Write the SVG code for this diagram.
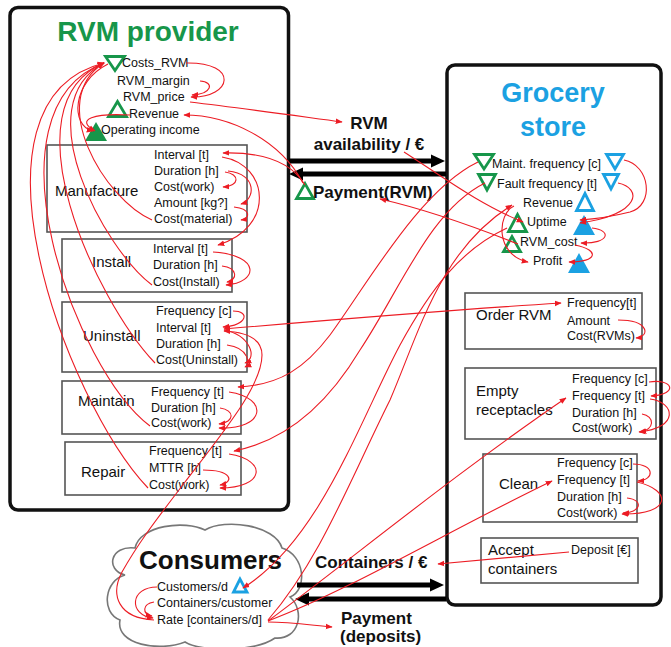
<svg xmlns="http://www.w3.org/2000/svg" width="671" height="647" viewBox="0 0 671 647">
  <defs>
    <style>
      .t { font-family: "Liberation Sans", Arial, sans-serif; font-size: 12.5px; fill: #111; }
      .bn { font-family: "Liberation Sans", Arial, sans-serif; font-size: 15px; fill: #111; }
      .fl { font-family: "Liberation Sans", Arial, sans-serif; font-size: 17px; font-weight: bold; fill: #111; }
      .ttl { font-family: "Liberation Sans", Arial, sans-serif; font-size: 28px; font-weight: bold; }
      .frame { fill: #fff; stroke: #111; stroke-width: 3.5; }
      .box { fill: #fff; stroke: #555; stroke-width: 1.6; }
      .g-open { fill: none; stroke: #17964a; stroke-width: 2.8; stroke-linejoin: miter; }
      .g-fill { fill: #17964a; }
      .b-open { fill: none; stroke: #1ba1e2; stroke-width: 2.8; stroke-linejoin: miter; }
      .b-fill { fill: #1ba1e2; }
      .c { fill: none; stroke: #ec1c24; stroke-width: 1.1; marker-end: url(#ah); }
      .c2 { fill: none; stroke: #ec1c24; stroke-width: 1.1; marker-start: url(#ah); marker-end: url(#ah); }
      .big { stroke: #000; stroke-width: 5; fill: none; }
    </style>
    <marker id="ah" viewBox="0 0 10 10" refX="9" refY="5" markerWidth="7" markerHeight="7" markerUnits="userSpaceOnUse" orient="auto-start-reverse">
      <path d="M0,1 L10,5 L0,9 z" fill="#ec1c24"/>
    </marker>
  </defs>

  <rect width="671" height="647" fill="#fff"/>

  <!-- RVM provider -->
  <g id="rvm-provider">
    <rect class="frame" x="10" y="7.5" width="278.5" height="502.5" rx="8"/>
    <text class="ttl" x="148" y="41" text-anchor="middle" fill="#17964a">RVM provider</text>
    <polygon class="g-open" points="105.5,56.5 124.5,56.5 115,70.5"/>
    <polygon class="g-open" points="108.5,116.5 126.5,116.5 117.5,101.5"/>
    <polygon class="g-fill" points="85,141 107,141 96,122"/>
    <text class="t" x="122" y="67">Costs_RVM</text>
    <text class="t" x="117" y="85">RVM_margin</text>
    <text class="t" x="123" y="101">RVM_price</text>
    <text class="t" x="129" y="118">Revenue</text>
    <text class="t" x="101" y="134">Operating income</text>
  </g>

  <g id="manufacture">
    <rect class="box" x="47" y="145" width="200" height="87"/>
    <text class="bn" x="55" y="196">Manufacture</text>
    <text class="t" x="154" y="159">Interval [t]</text>
    <text class="t" x="154" y="175">Duration [h]</text>
    <text class="t" x="154" y="191">Cost(work)</text>
    <text class="t" x="154" y="207">Amount [kg?]</text>
    <text class="t" x="154" y="223">Cost(material)</text>
  </g>

  <g id="install">
    <rect class="box" x="62" y="239" width="170" height="53"/>
    <text class="bn" x="92" y="267">Install</text>
    <text class="t" x="153" y="253">Interval [t]</text>
    <text class="t" x="153" y="269">Duration [h]</text>
    <text class="t" x="153" y="286">Cost(Install)</text>
  </g>

  <g id="uninstall">
    <rect class="box" x="62" y="302" width="185" height="70"/>
    <text class="bn" x="83" y="341">Uninstall</text>
    <text class="t" x="156" y="315">Frequency [c]</text>
    <text class="t" x="156" y="332">Interval [t]</text>
    <text class="t" x="156" y="348">Duration [h]</text>
    <text class="t" x="156" y="364">Cost(Uninstall)</text>
  </g>

  <g id="maintain">
    <rect class="box" x="62" y="381" width="179" height="53"/>
    <text class="bn" x="78" y="406">Maintain</text>
    <text class="t" x="151" y="396">Frequency [t]</text>
    <text class="t" x="151" y="412">Duration [h]</text>
    <text class="t" x="151" y="427">Cost(work)</text>
  </g>

  <g id="repair">
    <rect class="box" x="65" y="442" width="176" height="53"/>
    <text class="bn" x="81" y="477">Repair</text>
    <text class="t" x="149" y="455">Frequency [t]</text>
    <text class="t" x="149" y="472">MTTR [h]</text>
    <text class="t" x="149" y="489">Cost(work)</text>
  </g>

  <!-- Grocery store -->
  <g id="grocery-store">
    <rect class="frame" x="447" y="65" width="214" height="540" rx="8"/>
    <text class="ttl" x="553" y="102" text-anchor="middle" fill="#1ba1e2" style="font-size:27px">Grocery</text>
    <text class="ttl" x="553" y="136" text-anchor="middle" fill="#1ba1e2" style="font-size:27px">store</text>
    <polygon class="g-open" points="474.5,154.5 493.5,154.5 484,169"/>
    <polygon class="g-open" points="478.5,174.5 495.5,174.5 487,190"/>
    <polygon class="b-open" points="606.5,154.5 623.5,154.5 615,169"/>
    <polygon class="b-open" points="603.5,174.5 618.5,174.5 611,189"/>
    <polygon class="b-open" points="576.5,210.5 593.5,210.5 585,193.5"/>
    <polygon class="g-open" points="508.5,231.5 526.5,231.5 517.5,214.5"/>
    <polygon class="b-fill" points="573,235 595,235 584,215"/>
    <polygon class="g-open" points="503.5,251.5 520.5,251.5 512,236.5"/>
    <polygon class="b-fill" points="568,273 590,273 579,253"/>
    <text class="t" x="492" y="168">Maint. frequency [c]</text>
    <text class="t" x="497" y="188">Fault frequency [t]</text>
    <text class="t" x="523" y="207">Revenue</text>
    <text class="t" x="527" y="226">Uptime</text>
    <text class="t" x="520" y="246">RVM_cost</text>
    <text class="t" x="533" y="265">Profit</text>
  </g>

  <g id="order-rvm">
    <rect class="box" x="465" y="293" width="177" height="56"/>
    <text class="bn" x="476" y="320">Order RVM</text>
    <text class="t" x="567" y="307">Frequency[t]</text>
    <text class="t" x="567" y="325">Amount</text>
    <text class="t" x="567" y="340">Cost(RVMs)</text>
  </g>

  <g id="empty-receptacles">
    <rect class="box" x="465" y="368" width="191" height="71"/>
    <text class="bn" x="476" y="396">Empty</text>
    <text class="bn" x="476" y="415">receptacles</text>
    <text class="t" x="572" y="383">Frequency [c]</text>
    <text class="t" x="572" y="400">Frequency [t]</text>
    <text class="t" x="572" y="417">Duration [h]</text>
    <text class="t" x="572" y="432">Cost(work)</text>
  </g>

  <g id="clean">
    <rect class="box" x="483" y="454" width="154" height="68"/>
    <text class="bn" x="499" y="489">Clean</text>
    <text class="t" x="557" y="467">Frequency [c]</text>
    <text class="t" x="557" y="484">Frequency [t]</text>
    <text class="t" x="557" y="501">Duration [h]</text>
    <text class="t" x="557" y="517">Cost(work)</text>
  </g>

  <g id="accept-containers">
    <rect class="box" x="481" y="538" width="157" height="45"/>
    <text class="bn" x="488" y="555">Accept</text>
    <text class="bn" x="488" y="574">containers</text>
    <text class="t" x="571" y="554">Deposit [€]</text>
  </g>

  <!-- Consumers -->
  <g id="consumers">
    <path d="M125,575 C105,570 110,545 135,548 C140,525 185,520 205,530 C225,518 275,525 282,548 C305,555 308,590 290,597 C305,610 300,640 275,638 C255,652 200,652 185,642 C160,652 115,645 120,620 C100,612 105,580 125,575 Z" fill="#fff" stroke="#777" stroke-width="1.6"/>
    <text x="139" y="569" style="font-family:'Liberation Sans',Arial,sans-serif;font-size:26px;font-weight:bold" fill="#111">Consumers</text>
    <polygon class="b-open" points="233.5,592 247,592 240,579"/>
    <text class="t" x="157" y="591">Customers/d</text>
    <text class="t" x="157" y="607">Containers/customer</text>
    <text class="t" x="157" y="624">Rate [containers/d]</text>
  </g>

  <!-- Exchange labels -->
  <g id="exchange-labels">
    <text class="fl" x="369" y="129" text-anchor="middle">RVM</text>
    <text class="fl" x="369" y="150" text-anchor="middle">availability / €</text>
    <polygon class="g-open" points="296.5,198.5 313.5,198.5 305,183.5"/>
    <text class="fl" x="313" y="198">Payment(RVM)</text>
    <text class="fl" x="315" y="568">Containers / €</text>
    <text class="fl" x="341" y="624">Payment</text>
    <text class="fl" x="340" y="642">(deposits)</text>
  </g>

  <!-- Connectors -->
  <g id="connectors">
    <!-- exchange arrows -->
    <line class="big" x1="289" y1="161" x2="433" y2="161"/>
    <polygon points="431,154.5 445,161 431,167.5" fill="#000"/>
    <line class="big" x1="446" y1="174" x2="301" y2="174"/>
    <polygon points="303,167.5 289,174 303,180.5" fill="#000"/>
    <line class="big" x1="297" y1="585" x2="432" y2="585"/>
    <polygon points="430,578.5 444,585 430,591.5" fill="#000"/>
    <line class="big" x1="446" y1="599" x2="307" y2="599"/>
    <polygon points="309,592.5 295,599 309,605.5" fill="#000"/>

    <!-- provider internals -->
    <path class="c" d="M186,63 C240,62 232,98 191,97"/>
    <path class="c" d="M200,81 C215,82 212,94 192,95"/>
    <path class="c" d="M190,102 C240,108 290,115 342,122"/>
    <path class="c" d="M303,183 C280,140 230,115 184,115"/>
    <path class="c" d="M305,185 C290,160 260,152 223,153"/>
    <path class="c" d="M108,64 C72,82 70,126 93,131"/>
    <path class="c" d="M130,115 C95,113 74,119 95,131"/>
    <path class="c" d="M148,488 C65,400 -45,100 104,63"/>
    <path class="c" d="M150,426 C75,370 -20,110 104,63"/>
    <path class="c" d="M155,363 C95,300 5,105 104,63"/>
    <path class="c" d="M152,285 C105,250 25,105 104,63"/>
    <path class="c" d="M152,220 C105,200 45,100 104,63"/>
    <path class="c" d="M222,157 C270,165 275,228 218,245"/>
    <path class="c" d="M225,172 C240,174 240,186 223,187"/>
    <path class="c" d="M228,171 C258,174 255,200 241,204"/>
    <path class="c" d="M234,207 C252,209 250,219 241,220"/>
    <path class="c" d="M213,252 C262,255 258,283 226,285"/>
    <path class="c" d="M222,266 C238,268 238,280 227,282"/>
    <path class="c" d="M233,311 C250,311 248,325 223,327"/>
    <path class="c" d="M224,330 C250,335 258,358 245,363"/>
    <path class="c" d="M227,345 C250,348 250,365 245,367"/>
    <path class="c" d="M229,392 C270,398 265,430 219,428"/>
    <path class="c" d="M220,408 C235,410 235,422 219,424"/>
    <path class="c" d="M229,454 C268,460 265,488 220,488"/>
    <path class="c" d="M203,470 C232,470 235,482 220,485"/>

    <!-- links between actors -->
    <path class="c2" d="M224,329 C330,320 450,310 561,303"/>
    <path class="c" d="M478,162 C420,190 370,280 330,335 C305,368 280,385 238,387"/>
    <path class="c" d="M485,183 C430,210 400,290 360,350 C330,400 290,440 234,451"/>
    <path class="c" d="M507,228 C460,250 430,290 400,345 C360,420 320,540 243,588"/>
    <path class="c" d="M268,620 C320,560 350,480 390,400 C420,330 440,250 512,205"/>
    <path class="c" d="M268,621 C350,560 460,470 566,398"/>
    <path class="c" d="M268,621 C350,590 450,530 552,481"/>
    <path class="c" d="M268,622 C290,622 310,625 332,627"/>
    <path class="c" d="M154,620 C118,618 110,595 122,572 C140,540 160,515 185,482 C225,430 262,385 262,355 C262,338 245,332 224,331"/>
    <path class="c" d="M404,152 C440,175 480,205 523,222"/>
    <path class="c" d="M518,244 C470,225 420,208 380,199"/>
    <path class="c" d="M569,552 L438,564"/>

    <!-- grocery internals -->
    <path class="c" d="M624,160 C650,165 655,205 630,212 C610,217 595,219 580,220"/>
    <path class="c" d="M618,183 C642,188 642,214 580,223"/>
    <path class="c" d="M592,228 C612,230 610,244 581,243"/>
    <path class="c" d="M575,245 C600,250 598,262 569,262"/>
    <path class="c" d="M514,206 C497,214 495,255 528,262"/>
    <path class="c" d="M618,320 C650,320 650,337 636,338"/>
    <path class="c" d="M649,382 C672,378 680,394 651,396"/>
    <path class="c" d="M650,399 C675,402 680,428 639,432"/>
    <path class="c" d="M642,414 C655,416 655,430 640,432"/>
    <path class="c" d="M633,464 C655,464 655,480 638,481"/>
    <path class="c" d="M637,482 C672,490 672,515 622,514"/>
    <path class="c" d="M627,498 C645,500 640,513 623,513"/>

    <!-- consumer internals -->
    <path class="c" d="M157,587 C130,587 128,615 153,618"/>
    <path class="c" d="M154,602 C142,604 142,614 152,616"/>
  </g>
</svg>
